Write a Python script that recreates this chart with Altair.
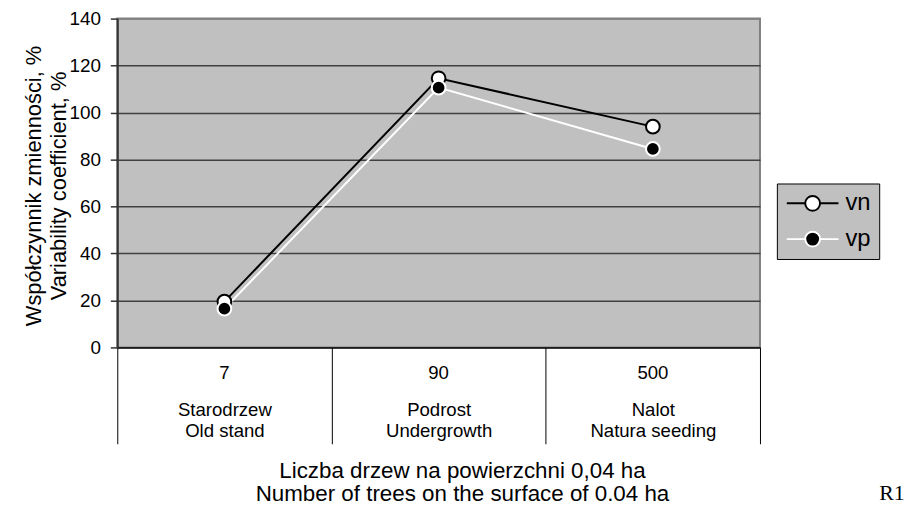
import altair as alt
import pandas as pd

counts = ["7", "90", "500"]
names_pl = ["Starodrzew", "Podrost", "Nalot"]
names_en = ["Old stand", "Undergrowth", "Natura seeding"]
series = ["vn", "vp"]
vn = [19.5, 114.6, 94.0]
vp = [16.5, 110.6, 84.5]
y_ticks = [0, 20, 40, 60, 80, 100, 120, 140]
x_title = ["Liczba drzew na powierzchni 0,04 ha", "Number of trees on the surface of 0.04 ha"]
y_title = ["Współczynnik zmienności, %", "Variability coefficient, %"]
note = ["R1"]

line_colors = ["black", "white"]
fill_colors = ["white", "black"]

cats = ["|".join([p, e]) for p, e in zip(names_pl, names_en)]
df = pd.DataFrame([{"cat": c, "series": s, "value": v}
                   for s, vals in zip(series, [vn, vp]) for c, v in zip(cats, vals)])
df_counts = pd.DataFrame({"cat": cats, "count": counts})

FONT = "Liberation Sans"
W, H = 647, 331
CAT_FS = 18.7

sym = ("M-2.89,0L-0.83,0M0.83,0L2.89,0"
       "M0.83,0C0.83,0.46 0.46,0.83 0,0.83C-0.46,0.83 -0.83,0.46 -0.83,0"
       "C-0.83,-0.46 -0.46,-0.83 0,-0.83C0.46,-0.83 0.83,-0.46 0.83,0Z")

legend = alt.Legend(title=None, orient="none", legendX=664, legendY=166,
                    symbolType=sym, symbolSize=324, symbolStrokeWidth=2, symbolOffset=16,
                    labelOffset=21, labelFont=FONT, labelFontSize=24, labelColor="black",
                    fillColor="#c0c0c0", strokeColor="black", padding=8, rowPadding=12)

x_scale = alt.Scale(type="band", paddingInner=0, paddingOuter=0)
x = alt.X("cat:N", sort=cats, bandPosition=0.5, scale=x_scale,
          axis=alt.Axis(title=x_title, tickBand="extent", ticks=True, tickSize=97,
                        tickColor="black", tickWidth=1, domainColor="black", domainWidth=1,
                        labelExpr="isValid(datum.value) ? split(datum.value, '|') : ''",
                        labelFont=FONT, labelFontSize=CAT_FS,
                        labelColor="black", labelAngle=0, labelAlign="center", labelBaseline="top",
                        labelPadding=-43, labelLineHeight=21, labelOverlap=False, labelLimit=300,
                        grid=False, titleFont=FONT, titleFontSize=22.5, titleFontWeight="normal",
                        titleColor="black", titleLineHeight=23, titleX=347, titleY=131,
                        titleAlign="center", titleBaseline="alphabetic"))

y = alt.Y("value:Q", scale=alt.Scale(domain=[0, 140], nice=False, zero=True),
          axis=alt.Axis(values=y_ticks, title=y_title, grid=True,
                        gridColor={"condition": {"test": "datum.value >= 140", "value": "#808080"},
                                   "value": "#404040"},
                        gridWidth=1.5,
                        tickSize=7, tickColor="#333333", tickWidth=1.5, domainColor="#333333",
                        domainWidth=2, labelFont=FONT, labelFontSize=19, labelColor="black",
                        labelPadding=10, titleFont=FONT, titleFontSize=22, titleFontWeight="normal",
                        titleColor="black", titleLineHeight=25, titleAngle=270, titleX=-84,
                        titleY=168, titleAlign="center", titleBaseline="middle"))

base = alt.Chart(df).encode(x=x, y=y)

line_layers = [
    base.transform_filter(alt.datum.series == s).mark_line(strokeWidth=2, color=col)
    for s, col in zip(series, line_colors)
]
points = base.mark_point(shape="circle", filled=True, size=190, strokeWidth=2, opacity=1).encode(
    fill=alt.Fill("series:N", scale=alt.Scale(domain=series, range=fill_colors), legend=legend),
    stroke=alt.Stroke("series:N", scale=alt.Scale(domain=series, range=line_colors), legend=legend),
)
count_layer = alt.Chart(df_counts).mark_text(
    font=FONT, fontSize=CAT_FS, align="center", baseline="top", color="black"
).encode(x=alt.X("cat:N", sort=cats, bandPosition=0.5), y=alt.value(H + 17), text="count:N")

note_layer = alt.Chart(pd.DataFrame({"t": note})).mark_text(
    font="Liberation Serif", fontSize=22, align="left", baseline="alphabetic", color="black"
).encode(x=alt.value(767), y=alt.value(485), text="t:N")

chart = alt.layer(*line_layers, points, count_layer, note_layer).properties(
    width=W, height=H,
    autosize=alt.AutoSizeParams(type="none"),
    padding={"left": 110, "top": 9, "right": 149, "bottom": 159},
).configure_view(fill="#c0c0c0", stroke="#808080", strokeWidth=2)

chart.save("out.html", embed_options={"renderer": "svg", "actions": False})
